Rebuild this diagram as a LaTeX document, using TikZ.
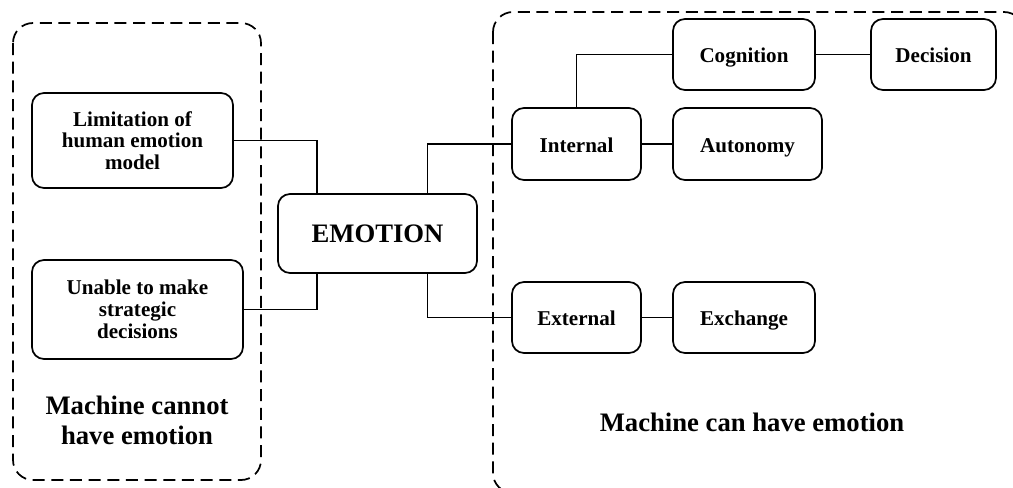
\documentclass[tikz,border=0pt]{standalone}
\usepackage{fontspec}
\setmainfont{Liberation Serif}
\usepackage{tikz}
\usetikzlibrary{calc}

\begin{document}
\begin{tikzpicture}[
    x=0.75pt, y=-0.75pt,
    box/.style={draw, rounded corners=9pt, line width=1.3pt, inner sep=0pt, align=center,
                font=\bfseries\fontsize{15.8}{16.3}\selectfont},
    tag/.style={box, text height=12pt, text depth=0pt},
    group/.style={draw, dash pattern=on 9pt off 5pt, line width=1.3pt, rounded corners=15pt},
    title/.style={align=center, font=\bfseries\fontsize{20}{22.5}\selectfont},
    link/.style={line width=1.2pt}
]
\useasboundingbox (0,0) rectangle (1013,487);
% the two camps
\begin{scope}
\clip (0,0) rectangle (1013,487);
\draw[group] (13,23) rectangle (261,480);
\draw[group] (493,12) rectangle (1024,493);
\end{scope}

\node[title] (nolab) at (137,420) {Machine cannot\\have emotion};
\node[title] (yeslab) at (752,422) {Machine can have emotion};

% centre
\node[box, minimum width=149.25pt, minimum height=59.25pt,
      font=\bfseries\fontsize{20}{22}\selectfont] (emo) at (377.5,233.5) {EMOTION};

% left side
\node[box, minimum width=150.75pt, minimum height=71.25pt] (lim) at (132.5,140.5) {Limitation of\\human emotion\\model};
\node[box, minimum width=158.25pt, minimum height=74.25pt] (una) at (137.5,309.5) {Unable to make\\strategic\\decisions};

% right side
\node[tag, minimum width=96.75pt, minimum height=54pt] (int) at (576.5,144) {Internal};
\node[tag, minimum width=111.75pt, minimum height=54pt] (aut) at (747.5,144) {Autonomy};
\node[tag, minimum width=106.5pt, minimum height=53.25pt] (cog) at (744,54.5) {Cognition};
\node[tag, minimum width=93.75pt, minimum height=53.25pt] (dec) at (933.5,54.5) {Decision};
\node[tag, minimum width=96.75pt, minimum height=53.25pt] (ext) at (576.5,317.5) {External};
\node[tag, minimum width=106.5pt, minimum height=53.25pt] (exc) at (744,317.5) {Exchange};

% connections
\coordinate (emoNL) at ($(emo.north west)!0.2!(emo.north east)$);
\coordinate (emoNR) at ($(emo.north west)!0.75!(emo.north east)$);
\coordinate (emoSL) at ($(emo.south west)!0.2!(emo.south east)$);
\coordinate (emoSR) at ($(emo.south west)!0.75!(emo.south east)$);
\draw[link] (lim.east) -| (emoNL);
\draw[link] (una.east) -| (emoSL);
\draw[link] (emoNR) |- (int.west);
\draw[link] (emoSR) |- (ext.west);
\draw[link] (int.north) |- (cog.west);
\draw[link] (int.east) -- (aut.west);
\draw[link] (cog.east) -- (dec.west);
\draw[link] (ext.east) -- (exc.west);
\end{tikzpicture}
\end{document}
